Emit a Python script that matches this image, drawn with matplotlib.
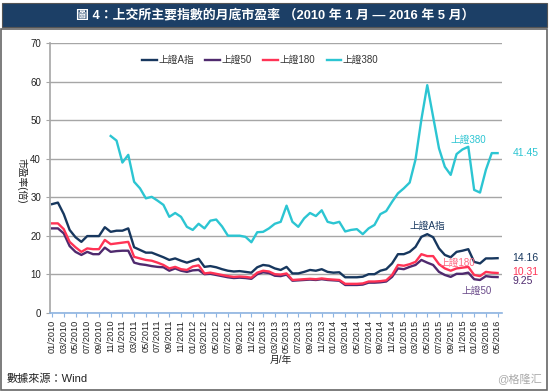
import matplotlib
matplotlib.use("Agg")
from matplotlib import pyplot as plt
from matplotlib.patches import Rectangle

plt.rcParams['font.family'] = ['Liberation Sans', 'Noto Sans CJK TC', 'DejaVu Sans']

# monthly data, 01/2010 .. 05/2016
months = []
for y in range(2010, 2017):
    for m in range(1, 13):
        if y == 2016 and m > 5:
            break
        months.append('%02d/%d' % (m, y))

a_share = [28.2, 28.6, 25.6, 21.5, 19.6, 18.4, 19.9, 19.9, 19.9, 22.2,
           21.0, 21.3, 21.3, 21.9, 17.0, 16.3, 15.6, 15.6, 15.0, 14.4,
           13.7, 14.1, 13.5, 13.0, 13.5, 14.0, 11.9, 12.1, 11.8, 11.3,
           10.9, 10.7, 10.8, 10.6, 10.4, 11.8, 12.4, 12.2, 11.5, 11.1,
           11.9, 10.2, 10.2, 10.6, 11.1, 10.9, 11.3, 10.6, 10.4, 10.5,
           9.2, 9.2, 9.2, 9.35, 10.0, 10.0, 10.9, 11.3, 12.8, 15.2,
           15.2, 15.8, 17.1, 19.7, 20.4, 19.6, 16.7, 15.0, 14.4, 15.8,
           16.1, 16.5, 13.2, 12.8, 14.1, 14.1, 14.16]

sse50 = [21.9, 21.9, 20.6, 17.3, 15.8, 15.0, 15.8, 15.2, 15.2, 16.9,
         15.8, 16.0, 16.1, 16.1, 13.0, 12.6, 12.4, 12.1, 11.9, 11.8,
         10.9, 11.5, 10.9, 10.6, 11.0, 11.1, 10.0, 10.1, 9.8, 9.5,
         9.2, 9.0, 9.1, 9.0, 8.8, 10.0, 10.5, 10.3, 9.6, 9.5,
         9.9, 8.3, 8.4, 8.5, 8.6, 8.5, 8.7, 8.5, 8.4, 8.3,
         7.2, 7.2, 7.2, 7.3, 7.8, 7.8, 7.9, 8.1, 9.3, 11.5,
         11.3, 11.9, 12.4, 13.7, 13.0, 12.4, 10.6, 9.8, 9.3, 10.1,
         10.1, 10.4, 8.7, 8.5, 9.5, 9.3, 9.25]

sse180 = [23.2, 23.2, 21.7, 18.4, 17.0, 15.8, 16.7, 16.5, 16.5, 18.9,
          17.8, 18.0, 18.2, 18.4, 14.5, 14.1, 13.7, 13.5, 13.0, 12.4,
          11.5, 11.9, 11.3, 11.1, 12.0, 12.3, 10.2, 10.4, 10.1, 9.8,
          9.5, 9.3, 9.4, 9.3, 9.1, 10.4, 10.9, 10.7, 10.0, 9.9,
          10.2, 8.5, 8.6, 8.7, 8.8, 8.7, 8.9, 8.7, 8.6, 8.5,
          7.5, 7.5, 7.5, 7.6, 8.1, 8.1, 8.2, 8.4, 9.8, 12.4,
          12.2, 12.6, 13.2, 15.2, 14.7, 14.7, 12.6, 11.5, 10.9, 11.5,
          11.7, 11.9, 9.8, 9.5, 10.6, 10.4, 10.31]

# 上證380 starts 11/2010
sse380_start = 10
sse380 = [45.9, 44.7, 39.0, 41.0, 34.0, 32.3, 29.7, 30.1, 29.1, 28.0,
          24.9, 25.9, 24.9, 22.3, 21.5, 23.1, 21.9, 23.9, 24.2, 22.4,
          20.0, 20.0, 20.0, 19.7, 18.3, 20.9, 21.0, 21.9, 23.1, 23.6,
          27.8, 23.6, 22.3, 24.5, 25.9, 25.1, 26.6, 23.6, 23.2, 23.6,
          21.1, 21.5, 21.7, 20.4, 21.9, 22.8, 25.6, 26.4, 28.8, 31.0,
          32.3, 33.8, 39.8, 50.2, 59.1, 50.9, 42.7, 37.9, 35.8, 41.2,
          42.4, 43.1, 31.9, 31.2, 37.1, 41.45, 41.45]

names = ['上證A指', '上證50', '上證180', '上證380']
colors = ['#17375E', '#4F2A6E', '#FF3355', '#2CC5D2']

fig = plt.figure(figsize=(5.5, 3.92), dpi=100)

# frame + title bar
fig.patches.append(Rectangle((0.002, 0.005), 0.992, 0.92, transform=fig.transFigure,
                             fill=False, edgecolor='#666666', lw=1.2))
fig.patches.append(Rectangle((0.004, 0.93), 0.99, 0.062, transform=fig.transFigure,
                             facecolor='#1C3F66', edgecolor='#555555', lw=0.8))
fig.text(0.5, 0.961, '圖 4：上交所主要指數的月底市盈率 （2010 年 1 月 — 2016 年 5 月）',
         ha='center', va='center', color='white', fontsize=9.3, fontweight='bold')

ax = fig.add_axes([50 / 550, 0.2023, 452 / 550, 0.6875])
x = list(range(len(months)))
ax.plot(x, a_share, color=colors[0], lw=1.7, label=names[0])
ax.plot(x, sse50, color=colors[1], lw=1.7, label=names[1])
ax.plot(x, sse180, color=colors[2], lw=1.7, label=names[2])
ax.plot(x[sse380_start:], sse380, color=colors[3], lw=1.7, label=names[3])

ax.set_xlim(-0.35, 76.75)
ax.set_ylim(0, 70)
ax.set_yticks(range(0, 71, 10))
ax.grid(axis='y', color='#A6A6A6', lw=1.0)
ax.set_axisbelow(True)
ax.set_xticks(x[::2])
ax.set_xticklabels(months[::2], rotation=90, fontsize=6.6, color='#222222')
ax.tick_params(axis='x', length=3, color='#8DB4E2', pad=2)
ax.tick_params(axis='y', length=3, color='#A6A6A6', labelsize=7, labelcolor='#222222')
for s in ['top', 'right']:
    ax.spines[s].set_visible(False)
ax.spines['left'].set_color('#A6A6A6')
ax.spines['left'].set_linewidth(1.2)
ax.spines['bottom'].set_color('#8DB4E2')
ax.spines['bottom'].set_linewidth(1.2)

fig.text(0.04, 0.54, '市盈率(倍)', fontsize=7, color='#222222', rotation=270,
         ha='center', va='center')
fig.text(0.51, 0.082, '月/年', fontsize=7, color='#222222', ha='center', va='center')

leg = ax.legend(loc='center', bbox_to_anchor=(0.465, 0.938), ncol=4, frameon=False,
                fontsize=7, handlelength=1.5, handletextpad=0.15, columnspacing=1.2)
for t in leg.get_texts():
    t.set_color('#333333')

# end values and series labels
ax.text(78.5, 14.16, '14.16', color=colors[0], fontsize=7.5, va='center')
ax.text(78.5, 10.6, '10.31', color=colors[2], fontsize=7.5, va='center')
ax.text(78.5, 8.3, '9.25', color=colors[1], fontsize=7.5, va='center')
ax.text(78.5, 41.45, '41.45', color=colors[3], fontsize=7.5, va='center')
ax.text(64, 22.6, '上證A指', color=colors[0], fontsize=7, ha='center', va='center')
ax.text(69.2, 13.0, '上證180', color='#FF6680', fontsize=7, ha='center', va='center')
ax.text(72.5, 5.6, '上證50', color='#6A4A8A', fontsize=7, ha='center', va='center')
ax.text(71, 44.9, '上證380', color=colors[3], fontsize=7, ha='center', va='center')

fig.text(0.012, 0.033, '數據來源：Wind', fontsize=8, color='#222222', va='center')
fig.text(0.985, 0.033, '@格隆汇', fontsize=8, color='#AAAAAA', va='center', ha='right')

fig.savefig('out.png', dpi=100)
